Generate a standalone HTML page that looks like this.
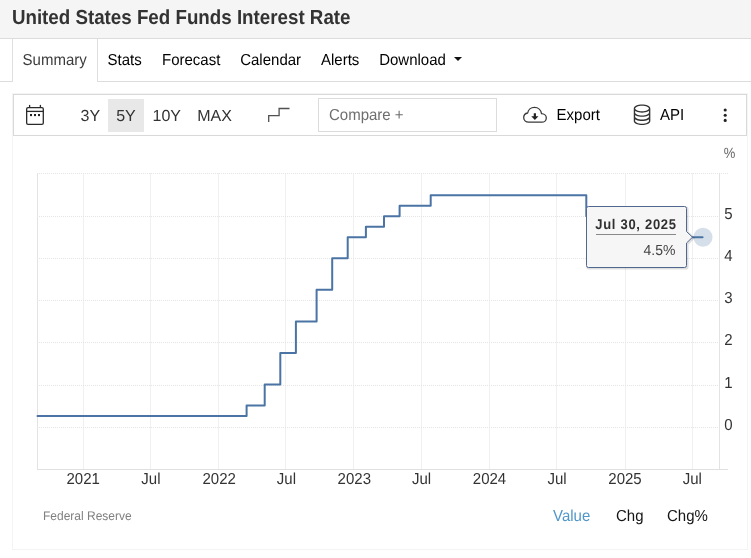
<!DOCTYPE html>
<html lang="en"><head><meta charset="utf-8"><title>United States Fed Funds Interest Rate</title>
<style>
html,body{margin:0;padding:0;background:#fff;}
body{width:751px;height:558px;position:relative;overflow:hidden;font-family:"Liberation Sans",Arial,Helvetica,sans-serif;font-size:15px;color:#212529;text-rendering:geometricPrecision;}
.abs{position:absolute;white-space:nowrap;}
.t{position:absolute;white-space:nowrap;line-height:20px;height:20px;}
#hdr{left:0;top:0;width:751px;height:38px;background:#f5f5f5;border-bottom:1px solid #dcdcdc;}
#navline{left:0;top:81px;width:751px;height:1px;background:#dcdcdc;}
#tab{left:12px;top:39px;width:84px;height:43px;background:#fff;border-left:1px solid #dfdfdf;border-right:1px solid #dfdfdf;}
#card{left:12px;top:93px;width:734px;height:455px;border:1px solid #f4f4f4;}
#tb{left:13px;top:94px;width:732px;height:40px;border:1px solid #d9d9d9;background:#fff;}
.rg{width:40px;text-align:center;}
#sel{left:108px;top:99px;width:36px;height:33px;background:#e8e8e8;}
#cmp{left:318px;top:98px;width:177px;height:32px;border:1px solid #dcdcdc;background:#fff;}
svg.chart{position:absolute;left:0;top:0;}
svg text{font-family:"Liberation Sans",Arial,Helvetica,sans-serif;text-rendering:geometricPrecision;}
.ax{font-size:15px;fill:#333;}
.pct{font-size:14px;fill:#666;}
.tt1{font-size:13px;font-weight:bold;fill:#303030;letter-spacing:0.7px;}
.tt2{font-size:14px;fill:#444;}
.src{font-size:12px;fill:#808080;}
</style></head><body>
<div id="hdr" class="abs"></div>
<div class="t " style="left:11.9px;top:8px;font-size:18.75px;color:#333;transform:scaleY(1.085);transform-origin:0 16px;font-weight:bold;">United States Fed Funds Interest Rate</div>
<div id="navline" class="abs"></div>
<div id="tab" class="abs"></div>
<div class="t " style="left:22.6px;top:51px;font-size:15px;color:#3c3c3c;transform:scaleY(1.06);transform-origin:0 14px;">Summary</div>
<div class="t " style="left:107.6px;top:51px;font-size:15px;color:#000;transform:scaleY(1.06);transform-origin:0 14px;">Stats</div>
<div class="t " style="left:162px;top:51px;font-size:15px;color:#000;transform:scaleY(1.06);transform-origin:0 14px;">Forecast</div>
<div class="t " style="left:240.2px;top:51px;font-size:15px;color:#000;transform:scaleY(1.06);transform-origin:0 14px;">Calendar</div>
<div class="t " style="left:321px;top:51px;font-size:15px;color:#000;transform:scaleY(1.06);transform-origin:0 14px;">Alerts</div>
<div class="t " style="left:379.2px;top:51px;font-size:15px;color:#000;transform:scaleY(1.06);transform-origin:0 14px;">Download</div>
<div class="abs" style="left:454px;top:57px;width:0;height:0;border-left:4px solid transparent;border-right:4px solid transparent;border-top:4px solid #111"></div>
<div id="card" class="abs"></div>
<div id="tb" class="abs"></div>
<svg class="abs" style="left:20px;top:100px" width="30" height="30" viewBox="0 0 30 30" fill="none" stroke="#2a2a2a" stroke-width="1.3"><rect x="6.65" y="7.65" width="16.65" height="16.65" rx="1.4"/><line x1="6.65" y1="11.4" x2="23.3" y2="11.4"/><line x1="9.6" y1="4.9" x2="9.6" y2="7.65"/><line x1="20.4" y1="4.9" x2="20.4" y2="7.65"/><g stroke="none" fill="#222"><rect x="10" y="14" width="2" height="2.1"/><rect x="14" y="14" width="2" height="2.1"/><rect x="18" y="14" width="2" height="2.1"/></g></svg>
<div id="sel" class="abs"></div>
<div class="t rg" style="left:70.35px;top:107px;font-size:16px;color:#333;transform:scaleY(1.0);transform-origin:0 14px;">3Y</div>
<div class="t rg" style="left:106px;top:107px;font-size:16px;color:#333;transform:scaleY(1.0);transform-origin:0 14px;">5Y</div>
<div class="t rg" style="left:146.8px;top:107px;font-size:16px;color:#333;transform:scaleY(1.0);transform-origin:0 14px;">10Y</div>
<div class="t rg" style="left:194.5px;top:107px;font-size:16px;color:#333;transform:scaleY(1.0);transform-origin:0 14px;">MAX</div>
<svg class="abs" style="left:264px;top:104px" width="30" height="22" viewBox="0 0 30 22" fill="none" stroke="#505050" stroke-width="1.3"><path d="M4.7 18 V11.7 H15.1 V4.5 H25.5"/></svg>
<div id="cmp" class="abs"></div>
<div class="t " style="left:329px;top:106px;font-size:15px;color:#6e6e6e;transform:scaleY(1.06);transform-origin:0 14px;">Compare +</div>
<svg class="abs" style="left:521px;top:103px" width="28" height="24" viewBox="0 0 28 24" fill="none" stroke="#3a3a3a" stroke-width="1.3" stroke-linejoin="round"><path d="M7.8 19.2 C4.6 19.2 2.7 17 2.7 14.6 C2.7 12.2 4.4 10.4 6.7 10 C7.2 6.8 9.9 4.4 13.4 4.4 C17.2 4.4 20.1 7.1 20.5 10.6 C23.2 10.7 25.3 12.5 25.3 14.9 C25.3 17.3 23.3 19.2 20.8 19.2 Z"/><path d="M12.75 10.2 h2.2 v3.1 h2.5 l-3.6 3.6 l-3.6 -3.6 h2.5 Z" fill="#222" stroke="none"/></svg>
<div class="t " style="left:556.6px;top:106px;font-size:15px;color:#000;transform:scaleY(1.06);transform-origin:0 14px;">Export</div>
<svg class="abs" style="left:631.1px;top:103.2px" width="22.1" height="22.1" viewBox="0 0 16 16" fill="#333"><path d="M4.318 2.687C5.234 2.271 6.536 2 8 2s2.766.27 3.682.687C12.644 3.125 13 3.627 13 4c0 .374-.356.875-1.318 1.313C10.766 5.729 9.464 6 8 6s-2.766-.27-3.682-.687C3.356 4.875 3 4.373 3 4c0-.374.356-.875 1.318-1.313ZM13 5.698V7c0 .374-.356.875-1.318 1.313C10.766 8.729 9.464 9 8 9s-2.766-.27-3.682-.687C3.356 7.875 3 7.373 3 7V5.698c.271.202.58.378.904.525C4.978 6.711 6.427 7 8 7s3.022-.289 4.096-.777A4.92 4.92 0 0 0 13 5.698ZM14 4c0-1.007-.875-1.755-1.904-2.223C11.022 1.289 9.573 1 8 1s-3.022.289-4.096.777C2.875 2.245 2 2.993 2 4v9c0 1.007.875 1.755 1.904 2.223C4.978 15.71 6.427 16 8 16s3.022-.289 4.096-.777C13.125 14.755 14 14.007 14 13V4Zm-1 4.698V10c0 .374-.356.875-1.318 1.313C10.766 11.729 9.464 12 8 12s-2.766-.27-3.682-.687C3.356 10.875 3 10.373 3 10V8.698c.271.202.58.378.904.525C4.978 9.71 6.427 10 8 10s3.022-.289 4.096-.777A4.92 4.92 0 0 0 13 8.698Zm0 3V13c0 .374-.356.875-1.318 1.313C10.766 14.729 9.464 15 8 15s-2.766-.27-3.682-.687C3.356 13.875 3 13.373 3 13v-1.302c.271.202.58.378.904.525C4.978 12.71 6.427 13 8 13s3.022-.289 4.096-.777c.324-.147.633-.323.904-.525Z"/></svg>
<div class="t " style="left:660px;top:106px;font-size:15px;color:#000;transform:scaleY(1.06);transform-origin:0 14px;">API</div>
<svg class="abs" style="left:720px;top:106px" width="10" height="18" viewBox="0 0 10 18" fill="#222"><circle cx="5.2" cy="4" r="1.55"/><circle cx="5.2" cy="9.2" r="1.55"/><circle cx="5.2" cy="14.4" r="1.55"/></svg>
<svg class="chart" width="751" height="558" viewBox="0 0 751 558">
<line x1="83.5" y1="173" x2="83.5" y2="469" stroke="#f0f0f0" stroke-width="1"/>
<line x1="150.5" y1="173" x2="150.5" y2="469" stroke="#f0f0f0" stroke-width="1"/>
<line x1="218.5" y1="173" x2="218.5" y2="469" stroke="#f0f0f0" stroke-width="1"/>
<line x1="285.5" y1="173" x2="285.5" y2="469" stroke="#f0f0f0" stroke-width="1"/>
<line x1="353.5" y1="173" x2="353.5" y2="469" stroke="#f0f0f0" stroke-width="1"/>
<line x1="421.5" y1="173" x2="421.5" y2="469" stroke="#f0f0f0" stroke-width="1"/>
<line x1="489.5" y1="173" x2="489.5" y2="469" stroke="#f0f0f0" stroke-width="1"/>
<line x1="556.5" y1="173" x2="556.5" y2="469" stroke="#f0f0f0" stroke-width="1"/>
<line x1="625.5" y1="173" x2="625.5" y2="469" stroke="#f0f0f0" stroke-width="1"/>
<line x1="692.5" y1="173" x2="692.5" y2="469" stroke="#f0f0f0" stroke-width="1"/>
<line x1="37" y1="173.5" x2="728" y2="173.5" stroke="#e5e5e5" stroke-width="1" stroke-dasharray="1 1"/>
<line x1="37" y1="216.5" x2="719" y2="216.5" stroke="#e5e5e5" stroke-width="1" stroke-dasharray="1 1"/>
<line x1="37" y1="258.5" x2="719" y2="258.5" stroke="#e5e5e5" stroke-width="1" stroke-dasharray="1 1"/>
<line x1="37" y1="300.5" x2="719" y2="300.5" stroke="#e5e5e5" stroke-width="1" stroke-dasharray="1 1"/>
<line x1="37" y1="342.5" x2="719" y2="342.5" stroke="#e5e5e5" stroke-width="1" stroke-dasharray="1 1"/>
<line x1="37" y1="385.5" x2="719" y2="385.5" stroke="#e5e5e5" stroke-width="1" stroke-dasharray="1 1"/>
<line x1="37" y1="427.5" x2="719" y2="427.5" stroke="#e5e5e5" stroke-width="1" stroke-dasharray="1 1"/>
<line x1="37.5" y1="173" x2="37.5" y2="470" stroke="#e3e3e3" stroke-width="1"/>
<line x1="719.5" y1="173" x2="719.5" y2="470" stroke="#e3e3e3" stroke-width="1"/>
<line x1="37" y1="469.5" x2="728" y2="469.5" stroke="#e0e0e0" stroke-width="1"/>
<path d="M37.5 416.0 L246.6 416.0 L246.6 405.5 L264.7 405.5 L264.7 384.4 L280.3 384.4 L280.3 352.9 L295.9 352.9 L295.9 321.4 L316.6 321.4 L316.6 289.8 L332.2 289.8 L332.2 258.3 L347.7 258.3 L347.7 237.2 L365.9 237.2 L365.9 226.7 L384.0 226.7 L384.0 216.2 L399.6 216.2 L399.6 205.7 L430.7 205.7 L430.7 195.2 L586.3 195.2 L586.3 216.2 L604.8 216.2 L604.8 226.7 L620.0 226.7 L620.0 237.2 L702.6 237.2" fill="none" stroke="#4b74a5" stroke-width="2" stroke-linejoin="round" stroke-linecap="round"/>
<circle cx="703" cy="237.2" r="9.5" fill="#4b74a5" fill-opacity="0.23"/>
<text transform="translate(724.2 219) scale(1 1.06)" class="ax" text-anchor="start">5</text>
<text transform="translate(724.2 261) scale(1 1.06)" class="ax" text-anchor="start">4</text>
<text transform="translate(724.2 303) scale(1 1.06)" class="ax" text-anchor="start">3</text>
<text transform="translate(724.2 345) scale(1 1.06)" class="ax" text-anchor="start">2</text>
<text transform="translate(724.2 388) scale(1 1.06)" class="ax" text-anchor="start">1</text>
<text transform="translate(724.2 430) scale(1 1.06)" class="ax" text-anchor="start">0</text>
<text transform="translate(83.2 484) scale(1 1.06)" class="ax" text-anchor="middle">2021</text>
<text transform="translate(150.9 484) scale(1 1.06)" class="ax" text-anchor="middle">Jul</text>
<text transform="translate(219.2 484) scale(1 1.06)" class="ax" text-anchor="middle">2022</text>
<text transform="translate(286.4 484) scale(1 1.06)" class="ax" text-anchor="middle">Jul</text>
<text transform="translate(354.3 484) scale(1 1.06)" class="ax" text-anchor="middle">2023</text>
<text transform="translate(421.5 484) scale(1 1.06)" class="ax" text-anchor="middle">Jul</text>
<text transform="translate(489.5 484) scale(1 1.06)" class="ax" text-anchor="middle">2024</text>
<text transform="translate(557.0 484) scale(1 1.06)" class="ax" text-anchor="middle">Jul</text>
<text transform="translate(625.0 484) scale(1 1.06)" class="ax" text-anchor="middle">2025</text>
<text transform="translate(692.3 484) scale(1 1.06)" class="ax" text-anchor="middle">Jul</text>
<text transform="translate(723.8 158) scale(0.93 1.06)" class="pct" text-anchor="start">%</text>
<path d="M588.5 206.5 H684.5 a2 2 0 0 1 2 2 V231.5 L692.5 237.2 L686.5 243 V265.5 a2 2 0 0 1 -2 2 H588.5 a2 2 0 0 1 -2 -2 V208.5 a2 2 0 0 1 2 -2 Z" fill="none" stroke="#000" stroke-opacity="0.13" stroke-width="2.4" transform="translate(0.9 0.9)"/>
<path d="M588.5 206.5 H684.5 a2 2 0 0 1 2 2 V231.5 L692.5 237.2 L686.5 243 V265.5 a2 2 0 0 1 -2 2 H588.5 a2 2 0 0 1 -2 -2 V208.5 a2 2 0 0 1 2 -2 Z" fill="#f6f6f6" stroke="#50688f" stroke-width="1"/>
<text transform="translate(595.3 229) scale(1 1.08)" class="tt1" text-anchor="start">Jul 30, 2025</text>
<line x1="596" y1="234.5" x2="676" y2="234.5" stroke="#888" stroke-width="1"/>
<text transform="translate(675.4 255) scale(1 1.04)" class="tt2" text-anchor="end">4.5%</text>
<text transform="translate(43 520) scale(1 1.04)" class="src" text-anchor="start">Federal Reserve</text>
</svg>
<div class="t " style="left:553px;top:507px;font-size:15px;color:#5096c8;transform:scaleY(1.06);transform-origin:0 14px;">Value</div>
<div class="t " style="left:616px;top:507px;font-size:15px;color:#151515;transform:scaleY(1.06);transform-origin:0 14px;">Chg</div>
<div class="t " style="left:667px;top:507px;font-size:15px;color:#151515;transform:scaleY(1.06);transform-origin:0 14px;">Chg%</div>
</body></html>
